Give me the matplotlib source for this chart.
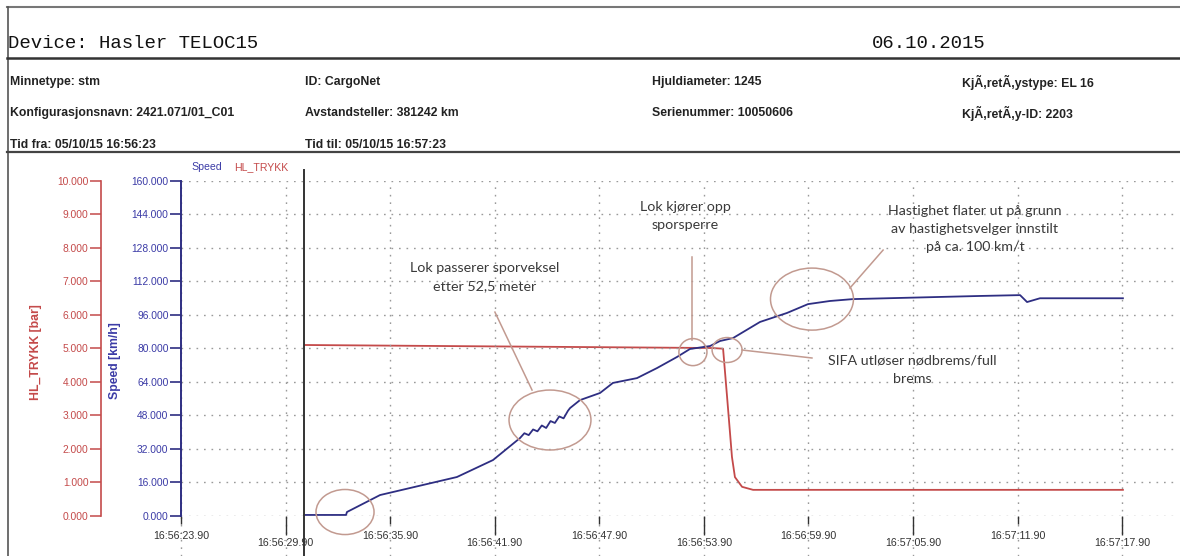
import matplotlib
matplotlib.use("Agg")
import matplotlib.pyplot as plt
from matplotlib.lines import Line2D
from matplotlib.patches import Ellipse

plt.rcParams["font.family"] = ["Liberation Sans", "DejaVu Sans"]

# ---------------- data ----------------
tick_seconds = [0, 6, 12, 18, 24, 30, 36, 42, 48, 54]
tick_labels = ["16:56:23.90", "16:56:29.90", "16:56:35.90", "16:56:41.90", "16:56:47.90",
               "16:56:53.90", "16:56:59.90", "16:57:05.90", "16:57:11.90", "16:57:17.90"]
speed_ticks = [0, 16, 32, 48, 64, 80, 96, 112, 128, 144, 160]
pressure_ticks = [0, 1, 2, 3, 4, 5, 6, 7, 8, 9, 10]

speed_t = [7.06, 9.47, 9.52, 11.42, 15.83, 17.90, 19.45, 19.70, 19.95, 20.20, 20.45, 20.70,
           20.95, 21.20, 21.45, 21.70, 21.95, 22.20, 22.32, 22.89, 24.04, 24.78, 26.16,
           27.31, 28.46, 29.20, 30.35, 30.92, 31.67, 33.22, 34.77, 35.97, 37.23, 38.55,
           45.84, 48.14, 48.54, 49.28, 54.04]
speed_v = [0.5, 0.5, 1.9, 10.0, 18.6, 26.7, 37.2, 39.5, 38.6, 41.3, 40.4, 43.2,
           42.0, 45.3, 44.4, 47.5, 46.6, 50.2, 51.5, 55.3, 58.7, 63.5, 65.8,
           70.6, 75.9, 79.7, 81.1, 83.5, 84.9, 92.6, 96.9, 101.1, 102.6, 103.5,
           105.0, 105.4, 102.1, 103.9, 103.9]

press_t = [7.11, 30.46, 31.10, 31.33, 31.61, 31.78, 32.19, 32.82, 54.04]
press_p = [5.10, 5.01, 4.99, 3.55, 1.76, 1.16, 0.87, 0.78, 0.78]

cursor_t = 7.06

header_left = ["Minnetype: stm", "Konfigurasjonsnavn: 2421.071/01_C01", "Tid fra: 05/10/15 16:56:23"]
header_mid = ["ID: CargoNet", "Avstandsteller: 381242 km", "Tid til: 05/10/15 16:57:23"]
header_mid2 = ["Hjuldiameter: 1245", "Serienummer: 10050606"]
header_right = ["KjÃ,retÃ,ystype: EL 16", "KjÃ,retÃ,y-ID: 2203"]

# ---------------- styles ----------------
W, H = 1180, 556
BLUE = "#2e2e82"
BLUE_TXT = "#3b3ba6"
RED = "#c44a4a"
ANN = "#c29a90"
TXT = "#3a3a3a"
GRID = "#9a9a9a"
dots = (0, (1.2, 4.2))

fig = plt.figure(figsize=(W / 100, H / 100), dpi=100)

def fx(px):
    return px / W

def fy(py):
    return 1 - py / H

x_left, x_right, y_top, y_bot = 181, 1178, 180.7, 516
ax = fig.add_axes([fx(x_left), fy(y_bot), fx(x_right - x_left), (y_bot - y_top) / H])
ax.set_xlim(0, 57.2)
ax.set_ylim(0, 160)
ax.patch.set_alpha(0)

for s in ["top", "right", "bottom"]:
    ax.spines[s].set_visible(False)
ax.spines["left"].set_color(BLUE)
ax.spines["left"].set_linewidth(1.4)
ax.set_yticks(speed_ticks, [f"{v:.3f}" for v in speed_ticks])
ax.tick_params(axis="y", colors=BLUE, labelcolor=BLUE_TXT, labelsize=7.4, length=8, width=1.2, direction="out", pad=1)
ax.grid(axis="y", color=GRID, linestyle=dots, linewidth=1.0)

# x ticks (alternating label heights)
ax.set_xticks(tick_seconds[0::2], tick_labels[0::2])
ax.set_xticks(tick_seconds[1::2], tick_labels[1::2], minor=True)
ax.tick_params(axis="x", which="major", length=6, width=1.0, colors="#333333", labelsize=7.7, pad=4.5)
ax.tick_params(axis="x", which="minor", length=14, width=1.0, colors="#333333", labelsize=7.7, pad=1.5)

# vertical grid extending below axes
for t in tick_seconds:
    ax.axvline(t, ymin=-0.12, ymax=1.0, color=GRID, linestyle=dots, linewidth=1.0, clip_on=False, zorder=0)

ax.set_ylabel("Speed [km/h]", color=BLUE_TXT, fontsize=8.8, fontweight="bold")
ax.yaxis.set_label_coords((121 - x_left) / (x_right - x_left), (y_bot - 361) / (y_bot - y_top))

# pressure axis
ax2 = ax.twinx()
ax2.set_ylim(0, 10)
for s in ["top", "right", "bottom"]:
    ax2.spines[s].set_visible(False)
ax2.spines["left"].set_visible(True)
ax2.spines["left"].set_position(("axes", (101 - x_left) / (x_right - x_left)))
ax2.spines["left"].set_color(RED)
ax2.spines["left"].set_linewidth(1.2)
ax2.yaxis.set_ticks_position("left")
ax2.yaxis.set_label_position("left")
ax2.set_yticks(pressure_ticks, [f"{v:.3f}" for v in pressure_ticks])
ax2.tick_params(axis="y", colors=RED, labelcolor=RED, labelsize=7.4, length=8, width=1.1, pad=1)
ax2.set_ylabel("HL_TRYKK [bar]", color=RED, fontsize=8.8, fontweight="bold")
ax2.yaxis.set_label_coords((42 - x_left) / (x_right - x_left), (y_bot - 352) / (y_bot - y_top))

# series
ax2.plot(press_t, press_p, color=RED, linewidth=1.3, zorder=3)
ax.plot(speed_t, speed_v, color=BLUE, linewidth=1.3, zorder=4)
ax.set_zorder(ax2.get_zorder() + 1)

# cursor line
ax.axvline(cursor_t, ymin=-0.12, ymax=1.032, color="#333333", linewidth=1.4, clip_on=False, zorder=5)

# annotations (ellipses, leader lines, text)
ellipses = [(9.41, 1.9, 3.33, 21.5), (21.17, 45.8, 4.70, 28.6), (29.37, 78.2, 1.61, 12.9),
            (31.33, 79.2, 1.72, 11.9), (36.20, 103.5, 4.76, 29.6)]
for cx, cy, w, h in ellipses:
    ax.add_patch(Ellipse((cx, cy), w, h, fill=False, edgecolor=ANN, linewidth=1.1, zorder=6, clip_on=False))

leaders = [((18.01, 97.3), (20.14, 60.1)), ((29.32, 123.6), (29.32, 84.0)),
           ((40.28, 126.9), (38.38, 108.8)), ((32.19, 79.2), (36.20, 75.4))]
for (x0, y0), (x1, y1) in leaders:
    ax.plot([x0, x1], [y0, y1], color=ANN, linewidth=1.1, zorder=6)

ann_font = dict(family=["Lato", "DejaVu Sans"], fontsize=10.3, color=TXT, ha="center", va="center",
                linespacing=1.6, zorder=7)
ax.text(17.44, 114.0, "Lok passerer sporveksel\netter 52,5 meter", **ann_font)
ax.text(28.92, 143.1, "Lok kjører opp\nsporsperre", **ann_font)
ax.text(45.55, 136.9, "Hastighet flater ut på grunn\nav hastighetsvelger innstilt\npå ca. 100 km/t", **ann_font)
ax.text(41.94, 69.7, "SIFA utløser nødbrems/full\nbrems", **ann_font)

# legend labels
fig.text(fx(207), fy(167), "Speed", color=BLUE_TXT, fontsize=7.6, ha="center", va="center")
fig.text(fx(261), fy(167), "HL_TRYKK", color=RED, fontsize=7.6, ha="center", va="center")

# header
fig.add_artist(Line2D([fx(7), fx(1180)], [fy(7), fy(7)], color="#777777", linewidth=1.5))
fig.add_artist(Line2D([fx(8), fx(8)], [fy(7), fy(556)], color="#555555", linewidth=1.2))
fig.add_artist(Line2D([fx(7), fx(1180)], [fy(58), fy(58)], color="#333333", linewidth=1.8))
fig.add_artist(Line2D([fx(7), fx(1180)], [fy(152), fy(152)], color="#444444", linewidth=1.6))

mono = dict(family=["Liberation Mono", "DejaVu Sans Mono"], fontsize=13.7, color="#111111", va="center")
fig.text(fx(8), fy(43), "Device: Hasler TELOC15", ha="left", **mono)
fig.text(fx(872), fy(43), "06.10.2015", ha="left", **mono)

hdr = dict(fontsize=8.8, fontweight="bold", color="#222222", va="center", ha="left")
rows = [82, 113, 145]
for i, s in enumerate(header_left):
    fig.text(fx(10), fy(rows[i]), s, **hdr)
for i, s in enumerate(header_mid):
    fig.text(fx(305), fy(rows[i]), s, **hdr)
for i, s in enumerate(header_mid2):
    fig.text(fx(652), fy(rows[i]), s, **hdr)
for i, s in enumerate(header_right):
    fig.text(fx(962), fy(rows[i]), s, **hdr)

fig.savefig("out.png", dpi=100)
